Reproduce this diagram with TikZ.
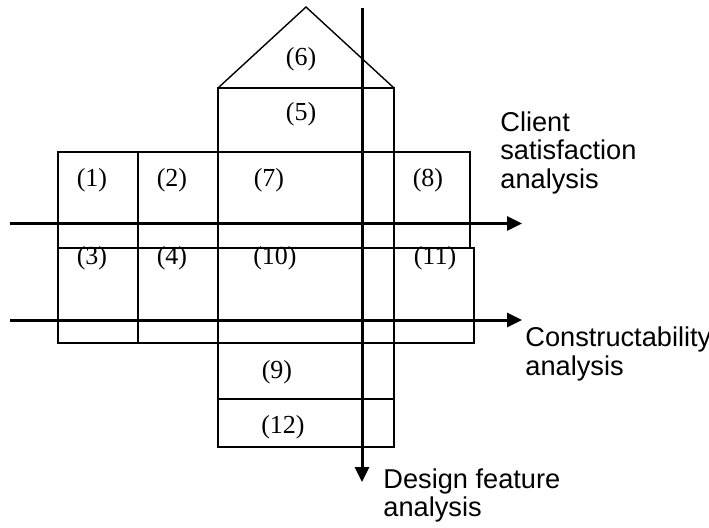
\documentclass[tikz,border=0pt]{standalone}
\usepackage{fontspec}
\setmainfont{Liberation Serif}
\newfontfamily\labelfont{Liberation Sans}
\usetikzlibrary{arrows.meta}

\begin{document}
\begin{tikzpicture}[x=0.5pt,y=-0.5pt]
\useasboundingbox (0,0) rectangle (709,527);
\begin{scope}[line width=0.7pt]
    % roof
    \draw (218,88) -- (306,7) -- (394,88);

    % middle column
    \draw (218,88) rectangle (394,447);
    \draw (218,152) -- (394,152);
    \draw (218,248) -- (394,248);
    \draw (218,343) -- (394,343);
    \draw (218,399) -- (394,399);

    % left wing
    \draw (58,152) rectangle (218,343);
    \draw (138,152) -- (138,343);
    \draw (58,248) -- (218,248);

    % right wing
    \draw (394,152) rectangle (470,248);
    \draw (394,248) rectangle (474,343);
\end{scope}

\begin{scope}[every node/.style={inner sep=0, font=\fontsize{13}{15}\selectfont}]
    \node (a) at (92,180) {(1)};
    \node (b) at (172,180) {(2)};
    \node (c) at (92,258) {(3)};
    \node (d) at (172,258) {(4)};
    \node (e) at (301,114) {(5)};
    \node (f) at (301,59) {(6)};
    \node (g) at (269,180) {(7)};
    \node (h) at (428,180) {(8)};
    \node (i) at (277,372) {(9)};
    \node (j) at (275,258) {(10)};
    \node (k) at (435,258) {(11)};
    \node (l) at (283,427) {(12)};
\end{scope}

\coordinate (cs0) at (10,223.5);
\coordinate (cs1) at (522,223.5);
\coordinate (ca0) at (10,320);
\coordinate (ca1) at (522,320);
\coordinate (df0) at (362,8);
\coordinate (df1) at (362,482);

\begin{scope}[line width=1.5pt, -{Triangle[length=7.5pt,width=7pt]}]
    \draw (cs0) -- (cs1);
    \draw (ca0) -- (ca1);
    \draw (df0) -- (df1);
\end{scope}

% base anchor sits on the last line
\begin{scope}[every node/.style={inner sep=0, anchor=base west, align=left,
    font=\labelfont\fontsize{13.6}{14.15}\selectfont}]
    \node (client) at (500,188) {Client\\satisfaction\\analysis};
    \node (constr) at (525,375) {Constructability\\analysis};
    \node (design) at (383,516.7) {Design feature\\analysis};
\end{scope}

\end{tikzpicture}
\end{document}
